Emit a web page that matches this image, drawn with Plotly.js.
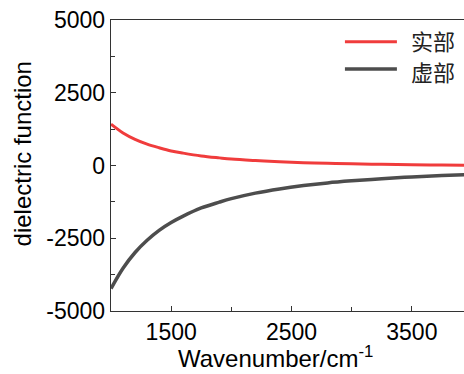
<!DOCTYPE html>
<html>
<head>
<meta charset="utf-8">
<script src="https://cdn.plot.ly/plotly-3.0.1.min.js"></script>
<style>html,body{margin:0;padding:0;overflow:hidden;background:#fff}</style>
</head>
<body>
<div id="chart" style="width:480px;height:374px"></div>
<script>
// Wavenumber (cm^-1)
const wavenumber = [1000, 1100, 1200, 1300, 1400, 1500, 1600, 1750, 1900, 2000, 2200, 2400, 2600, 2800, 3000, 3250, 3500, 3750, 4000];
// Real part (实部)
const realPart = [1420, 1120, 900, 735, 610, 500, 425, 330, 262, 222, 170, 128, 96, 74, 58, 42, 28, 17, 6];
// Imaginary part (虚部)
const imagPart = [-4230, -3530, -2990, -2570, -2230, -1960, -1740, -1460, -1260, -1140, -950, -805, -690, -598, -528, -455, -392, -345, -305];

const seriesNames = ['实部', '虚部'];
const xTickVals = [1500, 2500, 3500];
const xTickLabels = ['1500', '2500', '3500'];
const yTickVals = [-5000, -2500, 0, 2500, 5000];
const yTickLabels = ['-5000', '-2500', '0', '2500', '5000'];
const seriesColors = ['#f03c3c', '#4d4d4d'];

const traces = [
  {x: wavenumber, y: realPart, name: seriesNames[0], mode: 'lines', type: 'scatter',
   line: {color: seriesColors[0], width: 3, shape: 'spline'}, showlegend: false},
  {x: wavenumber, y: imagPart, name: seriesNames[1], mode: 'lines', type: 'scatter',
   line: {color: seriesColors[1], width: 3.5, shape: 'spline'}, showlegend: false}
];

const latin = 'Liberation Sans, Arial, sans-serif';
const cjk = 'Noto Sans CJK SC, sans-serif';
const axisFont = {family: latin, size: 23, color: '#000'};

// manual legend (line sample + label), positioned in paper coordinates
const legendLineY = [0.925, 0.832];
const legendTextY = [0.931, 0.825];
const shapes = seriesNames.map((n, i) => ({
  type: 'line', xref: 'paper', yref: 'paper', x0: 0.648, x1: 0.792, y0: legendLineY[i], y1: legendLineY[i],
  line: {color: seriesColors[i], width: i === 0 ? 3 : 3.5}
}));
const annotations = seriesNames.map((n, i) => ({
  text: n, xref: 'paper', yref: 'paper', x: 0.826, y: legendTextY[i], xanchor: 'left', yanchor: 'middle',
  showarrow: false, font: {family: cjk, size: 22, color: '#222'}
}));
annotations.push({
  text: 'Wavenumber/cm<sup>-1</sup>', xref: 'paper', yref: 'paper', x: 0.455, y: -0.158,
  xanchor: 'center', yanchor: 'middle', showarrow: false, font: {family: latin, size: 24, color: '#000'}
});
annotations.push({
  text: 'dielectric function', xref: 'paper', yref: 'paper', x: -0.2465, y: 0.538, textangle: -90,
  xanchor: 'center', yanchor: 'middle', showarrow: false, font: {family: latin, size: 24, color: '#000'}
});

const layout = {
  width: 480, height: 374,
  margin: {l: 111, r: 8, t: 20, b: 63},
  paper_bgcolor: '#fff', plot_bgcolor: '#fff',
  showlegend: false,
  shapes: shapes,
  annotations: annotations,
  xaxis: {
    range: [1000, 4000], tickmode: 'array', tickvals: xTickVals, ticktext: xTickLabels,
    ticks: 'inside', ticklen: 5, tickwidth: 1.2, tickcolor: '#333',
    minor: {tickmode: 'array', tickvals: [1000, 2000, 3000, 4000], ticks: 'inside', ticklen: 4, tickwidth: 1.2, tickcolor: '#333'},
    showline: true, linecolor: '#333', linewidth: 1.3, mirror: true,
    showgrid: false, zeroline: false,
    tickfont: axisFont
  },
  yaxis: {
    range: [-5000, 5000], tickmode: 'array', tickvals: yTickVals, ticktext: yTickLabels,
    ticks: 'inside', ticklen: 5, tickwidth: 1.2, tickcolor: '#333',
    minor: {tickmode: 'array', tickvals: [-3750, -1250, 1250, 3750], ticks: 'inside', ticklen: 4, tickwidth: 1.2, tickcolor: '#333'},
    showline: true, linecolor: '#333', linewidth: 1.3, mirror: false,
    showgrid: false, zeroline: false,
    tickfont: axisFont
  }
};

Plotly.newPlot('chart', traces, layout, {displayModeBar: false, staticPlot: true});
</script>
</body>
</html>
